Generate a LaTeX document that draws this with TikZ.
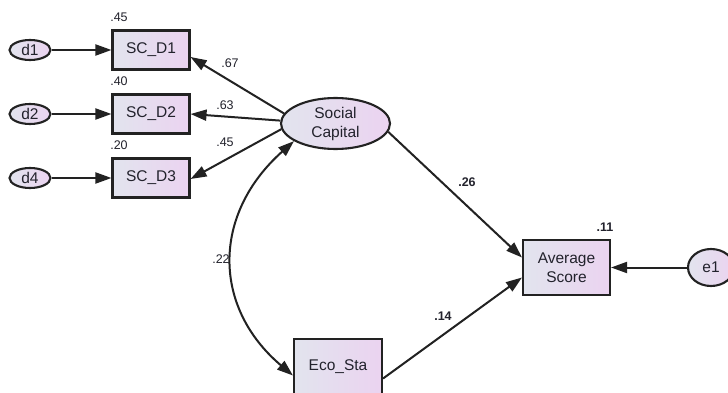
\documentclass[tikz,border=0pt]{standalone}
\usepackage{fontspec}
\setmainfont{Liberation Sans}
\usetikzlibrary{arrows.meta,shapes.geometric,calc}
\definecolor{shl}{HTML}{E2E4EE}
\definecolor{shr}{HTML}{EBD3F0}
\definecolor{edgec}{HTML}{222222}
\definecolor{txt}{HTML}{22222C}
\begin{document}
\begin{tikzpicture}[x=1pt,y=-1pt,
  obs/.style={draw=edgec,line width=2.1pt,rectangle,left color=shl,right color=shr,
    minimum width=77pt,minimum height=39pt,inner sep=0pt,
    font=\fontsize{15.5}{19}\selectfont,text=txt,align=center},
  lat/.style={draw=edgec,line width=2.1pt,ellipse,left color=shl,right color=shr,
    inner sep=0pt,font=\fontsize{15.5}{19}\selectfont,text=txt,align=center},
  lbl/.style={font=\fontsize{12.5}{14}\selectfont,text=txt,inner sep=0pt},
  blbl/.style={font=\bfseries\fontsize{12.5}{14}\selectfont,text=txt,inner sep=0pt},
  arr/.style={draw=edgec,line width=2pt,-{Triangle[length=16pt,width=11pt]}},
  dbl/.style={draw=edgec,line width=2pt,{Triangle[length=16pt,width=11pt]}-{Triangle[length=16pt,width=11pt]}}
]
\useasboundingbox[fill=white] (0,0) rectangle (728,393);

% observed indicators
\node[obs] (scd1) at (151,50) {SC\_D1};
\node[obs] (scd2) at (151,114) {SC\_D2};
\node[obs] (scd3) at (151,178) {SC\_D3};
% errors
\node[lat,minimum width=41pt,minimum height=20pt] (d1) at (30,50) {d1};
\node[lat,minimum width=41pt,minimum height=20pt] (d2) at (30,114) {d2};
\node[lat,minimum width=41pt,minimum height=20pt] (d4) at (30,178) {d4};
% latent
\node[lat,minimum width=109pt,minimum height=51pt] (sc) at (335.5,123.5) {Social\\Capital};
% outcome
\node[obs,minimum width=87pt,minimum height=55pt] (avg) at (566.5,267.5) {Average\\Score};
\node[lat,minimum width=46pt,minimum height=37pt] (e1) at (711,267.5) {e1};
% exogenous
\node[obs,minimum width=88pt,minimum height=55pt] (eco) at (338,366.5) {Eco\_Sta};

% connectors
\draw[arr] (d1) -- (scd1);
\draw[arr] (d2) -- (scd2);
\draw[arr] (d4) -- (scd3);
\draw[arr] (sc.169) -- ($(scd1.east)+(0,7)$);
\draw[arr] (sc.177) -- (scd2.east);
\draw[arr] (sc.186) -- ($(scd3.east)+(0,1)$);
\draw[arr] (sc.351) -- ($(avg.west)+(0,-10)$);
\draw[arr] ($(eco.east)+(0,12)$) -- ($(avg.west)+(0,10)$);
\draw[arr] (e1) -- (avg);
\draw[dbl] (sc.203) .. controls (212,214) and (212,307) .. ($(eco.west)+(0,9)$);

% labels
\node[lbl] (r1) at (119,17) {.45};
\node[lbl] (r2) at (119,81) {.40};
\node[lbl] (r3) at (119,145) {.20};
\node[lbl] (l1) at (230,63) {.67};
\node[lbl] (l2) at (225,105) {.63};
\node[lbl] (l3) at (225,142) {.45};
\node[lbl] (lc) at (221,259) {.22};
\node[blbl] (lsa) at (467,182) {.26};
\node[blbl] (lea) at (443,316) {.14};
\node[blbl] (ravg) at (605,227) {.11};
\end{tikzpicture}
\end{document}
